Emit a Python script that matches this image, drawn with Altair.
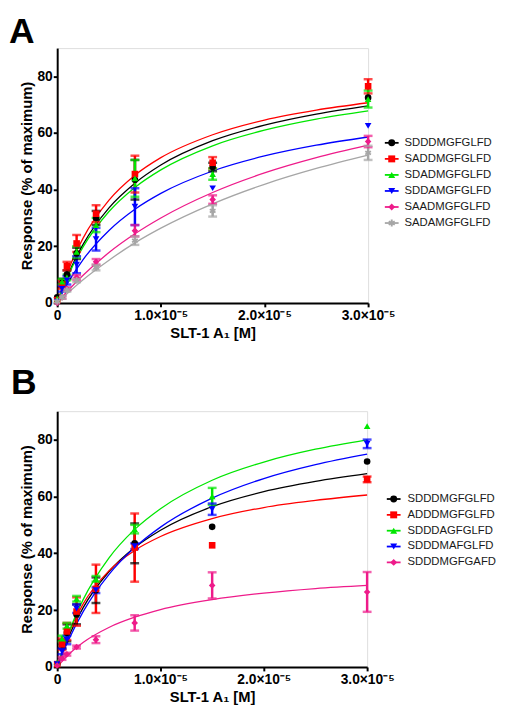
import altair as alt
import pandas as pd

# ---------------- data ----------------
conc = [0, 0.47e-6, 0.94e-6, 1.875e-6, 3.75e-6, 7.5e-6, 1.5e-5, 3.0e-5]
curve_x = [0, 1e-6, 2.5e-6, 5e-6, 7.5e-6, 1e-5, 1.5e-5, 2e-5, 2.5e-5, 3e-5]

ASTERISK = ("M-0.28,-1L0.28,-1L0.28,1L-0.28,1Z"
            "M0.726,-0.742L1.006,-0.258L-0.726,0.742L-1.006,0.258Z"
            "M-1.006,-0.258L-0.726,-0.742L1.006,0.258L0.726,0.742Z")

# Panel A
a_series = ["SDDDMGFGLFD", "SADDMGFGLFD", "SDADMGFGLFD",
            "SDDAMGFGLFD", "SAADMGFGLFD", "SADAMGFGLFD"]
a_colors = ["#000000", "#ff0000", "#00e600", "#0000ff", "#ee1b8a", "#a6a6a6"]
a_shapes = ["circle", "square", "triangle-up", "triangle-down", "diamond", ASTERISK]

a_mean_1 = [2.0, 7.0, 10.0, 17.5, 30.0, 43.5, 48.0, 72.5]
a_err_1 = [0, 1.5, 1.5, 2.0, 2.5, 7.0, 1.5, 0]
a_mean_2 = [1.0, 6.5, 13.0, 21.0, 31.5, 45.5, 49.5, 76.5]
a_err_2 = [0, 1.5, 1.5, 3.0, 3.0, 6.5, 2.0, 2.5]
a_mean_3 = [1.5, 7.5, 9.0, 18.0, 27.5, 44.0, 45.5, 72.0]
a_err_3 = [0, 1.0, 1.0, 2.0, 2.5, 6.5, 2.0, 3.0]
a_mean_4 = [0.5, 5.0, 8.0, 13.5, 22.5, 34.0, 40.5, 62.5]
a_err_4 = [0, 1.0, 1.5, 3.0, 4.0, 6.5, 0, 0]
a_mean_5 = [0.0, 2.0, 5.0, 9.0, 14.5, 25.5, 36.5, 57.0]
a_err_5 = [0, 0.5, 0.5, 0.8, 1.0, 2.0, 1.5, 2.0]
a_mean_6 = [0.5, 2.0, 4.5, 8.0, 12.5, 22.0, 32.5, 53.0]
a_err_6 = [0, 0.5, 0.5, 0.7, 1.0, 1.5, 2.0, 2.5]

a_fit_1 = [0, 9.6, 20.7, 33.6, 42.3, 48.7, 57.3, 62.8, 66.7, 69.6]
a_fit_2 = [0, 10.9, 22.9, 36.3, 45.1, 51.3, 59.4, 64.6, 68.1, 70.7]
a_fit_3 = [0, 9.2, 19.8, 32.3, 40.8, 47.0, 55.5, 61.0, 64.9, 67.8]
a_fit_4 = [0, 6.9, 15.3, 25.6, 33.1, 38.7, 46.6, 51.9, 55.7, 58.6]
a_fit_5 = [0, 4.2, 9.8, 17.8, 24.4, 30.0, 39.0, 45.9, 51.3, 55.7]
a_fit_6 = [0, 3.4, 8.2, 15.1, 21.2, 26.4, 35.0, 41.9, 47.5, 52.2]

# Panel B
b_series = ["SDDDMGFGLFD", "ADDDMGFGLFD", "SDDDAGFGLFD",
            "SDDDMAFGLFD", "SDDDMGFGAFD"]
b_colors = ["#000000", "#ff0000", "#00e600", "#0000ff", "#ee1b8a"]
b_shapes = ["circle", "square", "triangle-up", "triangle-down", "diamond"]

b_mean_1 = [1.0, 8.0, 12.0, 18.5, 27.0, 43.5, 49.3, 72.3]
b_err_1 = [0, 1.5, 3.0, 3.5, 4.5, 7.0, 0, 0]
b_mean_2 = [1.0, 8.0, 12.5, 19.5, 27.5, 42.0, 42.8, 66.0]
b_err_2 = [0, 2.0, 3.0, 5.0, 8.5, 12.0, 0, 1.0]
b_mean_3 = [1.5, 10.0, 14.5, 24.0, 31.0, 48.5, 60.0, 84.7]
b_err_3 = [0, 1.0, 1.0, 1.0, 1.0, 1.5, 3.0, 0]
b_mean_4 = [1.0, 5.5, 9.5, 20.5, 27.0, 42.5, 55.5, 78.5]
b_err_4 = [0, 1.0, 1.5, 1.5, 1.0, 1.0, 2.0, 1.5]
b_mean_5 = [0.5, 3.0, 4.5, 7.0, 9.6, 15.5, 28.7, 26.4]
b_err_5 = [0, 0.5, 0.5, 0.5, 1.2, 2.7, 4.6, 7.0]

b_fit_1 = [0, 9.7, 20.8, 33.5, 42.0, 48.1, 56.4, 61.7, 65.3, 68.0]
b_fit_2 = [0, 10.8, 22.1, 33.8, 41.0, 45.9, 52.2, 56.1, 58.6, 60.5]
b_fit_3 = [0, 11.0, 23.6, 38.3, 48.4, 55.7, 65.7, 72.1, 76.6, 79.9]
b_fit_4 = [0, 8.7, 19.4, 32.5, 42.0, 49.2, 59.4, 66.3, 71.2, 74.9]
b_fit_5 = [0, 4.0, 8.6, 13.9, 17.5, 20.2, 23.7, 26.0, 27.6, 28.7]

FONT = "Liberation Sans"


def tables(series, means, errs, fits):
    pts, caps, lines = [], [], []
    for s, m, e, f in zip(series, means, errs, fits):
        for xv, yv, ev in zip(conc, m, e):
            pts.append({"series": s, "x": xv, "y": yv, "lo": yv - ev, "hi": yv + ev, "err": ev})
            if ev > 0:
                caps.append({"series": s, "x": xv, "yc": yv - ev})
                caps.append({"series": s, "x": xv, "yc": yv + ev})
        for xv, yv in zip(curve_x, f):
            lines.append({"series": s, "x": xv, "y": yv})
    return pd.DataFrame(pts), pd.DataFrame(caps), pd.DataFrame(lines)


def panel(letter, series, colors, shapes, means, errs, fits, w, h,
          leg_rows, leg_cx, leg_tx, letter_x, letter_y):
    pts, caps, lines = tables(series, means, errs, fits)
    color = alt.Color("series:N", scale=alt.Scale(domain=series, range=colors), legend=None)
    shape = alt.Shape("series:N", scale=alt.Scale(domain=series, range=shapes), legend=None)
    xs = alt.Scale(domain=[0, 3e-5], nice=False, zero=True)
    ys = alt.Scale(domain=[0, 90], nice=False)
    xax = alt.Axis(values=[0, 1e-5, 2e-5, 3e-5],
                   labelExpr="datum.value == 0 ? '0' : format(datum.value*1e5, '.1f') + '×10⁻⁵'",
                   title="SLT-1 A₁ [M]", titleFont=FONT, titleFontSize=15, titleFontWeight="bold",
                   titleColor="black", titlePadding=3,
                   labelFont=FONT, labelFontSize=14, labelFontWeight="bold", labelColor="black",
                   labelPadding=2, tickSize=4, tickWidth=2, tickColor="black",
                   domainWidth=2, domainColor="black", grid=False, labelFlush=False)
    yax = alt.Axis(values=list(range(0, 90, 10)),
                   labelExpr="datum.value % 20 == 0 ? datum.label : ''",
                   title="Response (% of maximum)", titleFont=FONT, titleFontSize=15,
                   titleFontWeight="bold", titleColor="black", titlePadding=3,
                   labelFont=FONT, labelFontSize=14, labelFontWeight="bold", labelColor="black",
                   labelPadding=1, tickSize=4, tickWidth=2, tickColor="black",
                   domainWidth=2, domainColor="black", grid=False)
    X = alt.X("x:Q", scale=xs, axis=xax)

    curves = alt.Chart(lines).mark_line(interpolate="monotone", strokeWidth=1.3).encode(
        x=X, y=alt.Y("y:Q", scale=ys, axis=yax), color=color, detail="series:N")
    bars = alt.Chart(pts).transform_filter("datum.err > 0").mark_rule(strokeWidth=2.5).encode(
        x=alt.X("x:Q", scale=xs), y=alt.Y("lo:Q", scale=ys), y2="hi:Q", color=color)
    capm = alt.Chart(caps).mark_tick(orient="horizontal", size=9, thickness=2.5).encode(
        x=alt.X("x:Q", scale=xs), y=alt.Y("yc:Q", scale=ys), color=color)
    dots = alt.Chart(pts).mark_point(filled=True, size=45, opacity=1).encode(
        x=alt.X("x:Q", scale=xs), y=alt.Y("y:Q", scale=ys), color=color, shape=shape)
    data_layer = alt.layer(curves, bars, capm, dots)

    leg = pd.DataFrame({"series": series})
    ly = alt.Y("series:N", scale=alt.Scale(type="point", domain=series, range=leg_rows,
                                           padding=0), axis=None)
    lrule = alt.Chart(leg).mark_rule(strokeWidth=1.8).encode(
        x=alt.value(leg_cx - 7), x2=alt.value(leg_cx + 7), y=ly, color=color)
    lpt = alt.Chart(leg).mark_point(filled=True, size=50, opacity=1).encode(
        x=alt.value(leg_cx), y=ly, color=color, shape=shape)
    ltxt = alt.Chart(leg).mark_text(align="left", baseline="middle", font=FONT,
                                    fontSize=11.5, color="#1a1a1a").encode(
        x=alt.value(leg_tx), y=ly, text="series:N")
    lab = alt.Chart(pd.DataFrame({"t": [letter]})).mark_text(
        align="left", baseline="top", font=FONT, fontSize=36, fontWeight="bold",
        color="black").encode(x=alt.value(letter_x), y=alt.value(letter_y), text="t:N")
    leg_layer = alt.layer(lrule, lpt, ltxt, lab)

    return alt.layer(data_layer, leg_layer).resolve_scale(y="independent").properties(
        width=w, height=h)


pa = panel("A", a_series, a_colors, a_shapes,
           [a_mean_1, a_mean_2, a_mean_3, a_mean_4, a_mean_5, a_mean_6],
           [a_err_1, a_err_2, a_err_3, a_err_4, a_err_5, a_err_6],
           [a_fit_1, a_fit_2, a_fit_3, a_fit_4, a_fit_5, a_fit_6],
           316, 259, [96.3, 177.8], 340, 353, -49, -33)
pb = panel("B", b_series, b_colors, b_shapes,
           [b_mean_1, b_mean_2, b_mean_3, b_mean_4, b_mean_5],
           [b_err_1, b_err_2, b_err_3, b_err_4, b_err_5],
           [b_fit_1, b_fit_2, b_fit_3, b_fit_4, b_fit_5],
           315, 260, [89.3, 153.7], 342, 356, -47, -45)

chart = alt.vconcat(pa, pb, spacing=24).resolve_scale(
    color="independent", shape="independent"
).properties(
    padding={"left": 0, "top": 0, "right": 0, "bottom": 0}
).configure_view(stroke=None).configure(background="white")

chart.save("out.html", embed_options={"renderer": "svg", "actions": False})
